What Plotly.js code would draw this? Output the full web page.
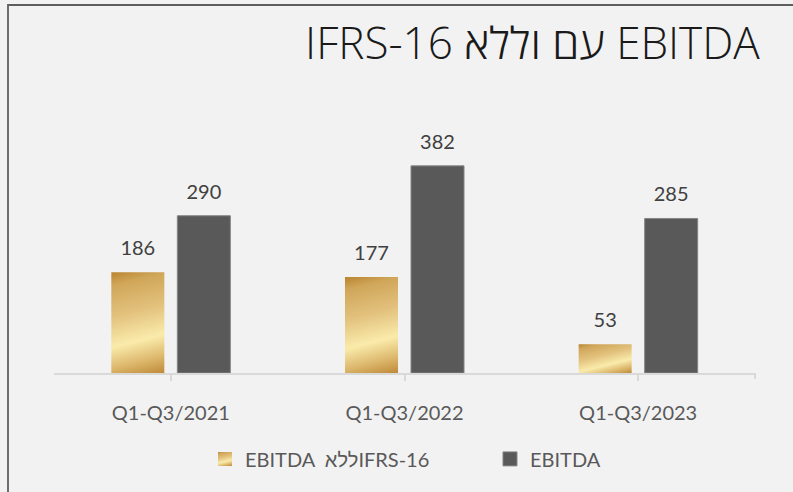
<!DOCTYPE html>
<html>
<head>
<meta charset="utf-8">
<script src="https://cdn.plot.ly/plotly-3.0.1.min.js"></script>
<style>
  html, body { margin: 0; padding: 0; background: #f2f2f2; }
  #wrap { position: relative; width: 793px; height: 492px; }
  #chart { width: 793px; height: 492px; }
  #frame { position: absolute; left: 7px; top: 4px; right: 0; bottom: 0;
           border-left: 2px solid #6e6e6e; border-top: 2px solid #5e5e5e; pointer-events: none; }
</style>
</head>
<body>
<div id="wrap"><div id="chart"></div><div id="frame"></div></div>
<script>
const categories = ['Q1-Q3/2021', 'Q1-Q3/2022', 'Q1-Q3/2023'];
const withoutIFRS = [186, 177, 53];
const ebitda = [290, 382, 285];
const seriesNames = ['EBITDA\u00a0\u00a0ללאIFRS-16', 'EBITDA'];
const chartTitle = 'IFRS-16 עם וללא EBITDA';

const FAM = 'Lato, "Liberation Sans", "DejaVu Sans", sans-serif';
const TITLEFAM = '"Open Sans", "DejaVu Sans", sans-serif';
const labelFont = { family: FAM, size: 20, color: '#404040' };

const traces = [
  { type: 'bar', x: categories, y: withoutIFRS, name: seriesNames[0],
    marker: { color: '#e0bd6e', line: { width: 0 } },
    text: withoutIFRS.map(String), textposition: 'outside', textfont: labelFont,
    cliponaxis: false, hoverinfo: 'none' },
  { type: 'bar', x: categories, y: ebitda, name: seriesNames[1],
    marker: { color: '#595959', line: { color: '#858585', width: 1 } },
    text: ebitda.map(String), textposition: 'outside', textfont: labelFont,
    cliponaxis: false, hoverinfo: 'none' }
];

const layout = {
  width: 793, height: 492,
  paper_bgcolor: '#f2f2f2', plot_bgcolor: '#f2f2f2',
  margin: { l: 54, r: 38, t: 129, b: 119 },
  barmode: 'group', bargap: 0.435, bargroupgap: 0.197,
  title: { text: chartTitle, x: 0.958, xanchor: 'right', xref: 'container',
           y: 0.88, yref: 'container', yanchor: 'bottom',
           font: { family: TITLEFAM, size: 44, color: '#1a1a1a', weight: 300 } },
  xaxis: { type: 'category', showline: true, linecolor: '#d9d9d9', linewidth: 2,
           ticks: 'outside', tickson: 'labels', ticklen: 6, tickwidth: 2, tickcolor: '#d9d9d9',
           tickfont: { family: FAM, size: 20, color: '#595959' },
           ticklabelstandoff: 15, showgrid: false, zeroline: false, fixedrange: true },
  yaxis: { range: [0, 450], visible: false, showgrid: false, zeroline: false, fixedrange: true },
  showlegend: true,
  legend: { orientation: 'h', x: 0.2154, xanchor: 'left', y: -0.352, yanchor: 'middle',
            font: { family: FAM, size: 20, color: '#595959' },
            entrywidth: 240, entrywidthmode: 'pixels', traceorder: 'normal', bgcolor: 'rgba(0,0,0,0)' },
  shapes: [
    { type: 'line', xref: 'paper', yref: 'paper', x0: 1, x1: 1, ysizemode: 'pixel', yanchor: 0,
      y0: 0, y1: -6, line: { color: '#d9d9d9', width: 2 } }
  ]
};

const goldStops = [['0', '#b9842f'], ['0.12', '#d0a659'], ['0.4', '#e3c27e'], ['0.66', '#faebab'],
                   ['0.85', '#dcb76c'], ['1', '#bf8a38']];

Plotly.newPlot('chart', traces, layout, { staticPlot: true }).then(function (gd) {
  const svg = gd.querySelector('.main-svg');
  const defs = svg.querySelector('defs');
  const ns = 'http://www.w3.org/2000/svg';
  let n = 0;
  function applyGold(p) {
    const b = p.getBBox();
    const dx = 0.25, dy = 1, nr = Math.hypot(dx, dy);
    const ux = dx / nr, uy = dy / nr;
    const L = ux * b.width + uy * b.height;
    const grad = document.createElementNS(ns, 'linearGradient');
    const id = 'goldGrad' + (n++);
    grad.setAttribute('id', id);
    grad.setAttribute('gradientUnits', 'userSpaceOnUse');
    grad.setAttribute('x1', b.x); grad.setAttribute('y1', b.y);
    grad.setAttribute('x2', b.x + ux * L); grad.setAttribute('y2', b.y + uy * L);
    goldStops.forEach(function (s) {
      const st = document.createElementNS(ns, 'stop');
      st.setAttribute('offset', s[0]); st.setAttribute('stop-color', s[1]);
      grad.appendChild(st);
    });
    defs.appendChild(grad);
    p.style.fill = 'url(#' + id + ')';
  }
  const barTraces = gd.querySelectorAll('.barlayer .trace');
  barTraces[0].querySelectorAll('.point path').forEach(applyGold);
  const legendTraces = gd.querySelectorAll('.legend .traces');
  legendTraces.forEach(function (lt, i) {
    lt.querySelectorAll('.legendpoints path').forEach(function (p) {
      p.setAttribute('d', 'M7,7H-7V-7H7Z');
      if (i === 0) applyGold(p);
    });
  });
  gd.querySelectorAll('.barlayer .bartext').forEach(function (t) {
    const tr = t.getAttribute('transform') || '';
    t.setAttribute('transform', 'translate(0,-10) ' + tr);
  });
});
</script>
</body>
</html>
